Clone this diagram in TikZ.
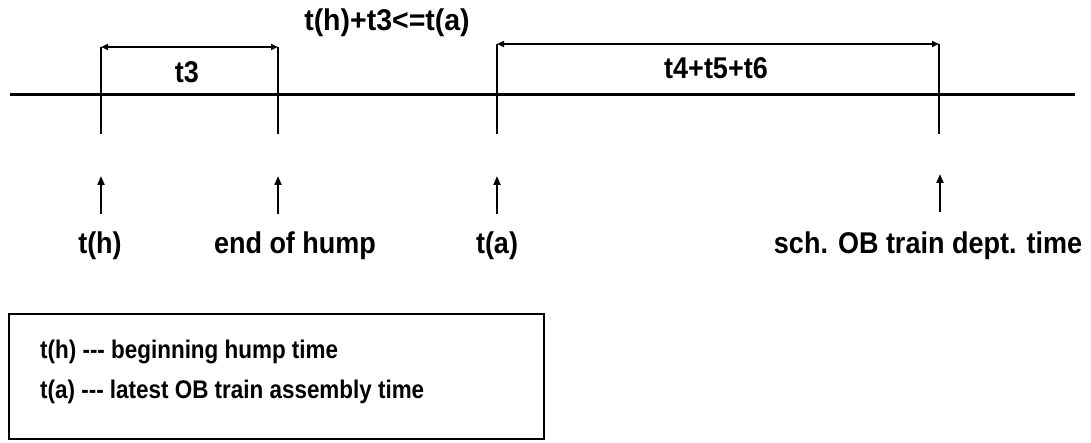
\documentclass[tikz,border=0pt]{standalone}
\usepackage{fontspec}
\setmainfont{Liberation Sans}
\newfontfamily\lblfont[FakeStretch=0.9]{Liberation Sans}
\newfontfamily\ttlfont[FakeStretch=0.95]{Liberation Sans}
\newfontfamily\legfont[FakeStretch=0.88]{Liberation Sans}
\usetikzlibrary{arrows.meta}
\tikzset{
  lbl/.style={font=\lblfont\bfseries\fontsize{30}{34}\selectfont, inner sep=0pt},
  ttl/.style={font=\ttlfont\bfseries\fontsize{30}{34}\selectfont, inner sep=0pt},
  leg/.style={font=\legfont\bfseries\fontsize{25.5}{30}\selectfont, inner sep=0pt, anchor=west},
  axis/.style={line width=3pt},
  tick/.style={line width=2.4pt},
  dim/.style={line width=1.8pt, {Triangle[length=7pt,width=6pt]}-{Triangle[length=7pt,width=6pt]}},
  up/.style={line width=2pt, -{Triangle[length=9pt,width=7pt]}},
  legendbox/.style={draw, line width=2pt}
}
\begin{document}
\begin{tikzpicture}[x=1pt,y=-1pt]
\useasboundingbox (0,0) rectangle (1091,443);
% main axis
\coordinate (L) at (10,95);
\coordinate (R) at (1075,95);
\draw[axis] (L) -- (R);
% ticks
\coordinate (h1) at (101,47);  \coordinate (h2) at (101,134);
\coordinate (e1) at (278,47);  \coordinate (e2) at (278,134);
\coordinate (a1) at (497,44);  \coordinate (a2) at (497,134);
\coordinate (d1) at (939,44);  \coordinate (d2) at (939,134);
\draw[tick] (h1) -- (h2);
\draw[tick] (e1) -- (e2);
\draw[tick] (a1) -- (a2);
\draw[tick] (d1) -- (d2);
% dimension arrows
\draw[dim] (h1) -- (e1);
\draw[dim] (a1) -- (d1);
\node[lbl] (t3) at (187,72) {t3};
\node[lbl] (t456) at (716,68) {t4+t5+t6};
\node[ttl] (cond) at (387,23) {t(h)+t3<=t(a)};
% up arrows
\coordinate (uh0) at (101,214); \coordinate (uh1) at (101,176);
\coordinate (ue0) at (278,214); \coordinate (ue1) at (278,176);
\coordinate (ua0) at (497,214); \coordinate (ua1) at (497,176);
\coordinate (ud0) at (940,212); \coordinate (ud1) at (940,174);
\draw[up] (uh0) -- (uh1);
\draw[up] (ue0) -- (ue1);
\draw[up] (ua0) -- (ua1);
\draw[up] (ud0) -- (ud1);
% labels
\node[lbl] (th) at (100,246) {t(h)};
\node[lbl] (eoh) at (295,246) {end of hump};
\node[lbl] (ta) at (497,246) {t(a)};
\node[lbl] (sch) at (928,246) {sch. OB train dept. time};
% legend
\node[legendbox, minimum width=535pt, minimum height=125pt, anchor=north west] (box) at (8,313) {};
\node[leg] (leg1) at (40,352) {t(h) -{}-{}- beginning hump time};
\node[leg] (leg2) at (40,392) {t(a) -{}-{}- latest OB train assembly time};
\end{tikzpicture}
\end{document}
